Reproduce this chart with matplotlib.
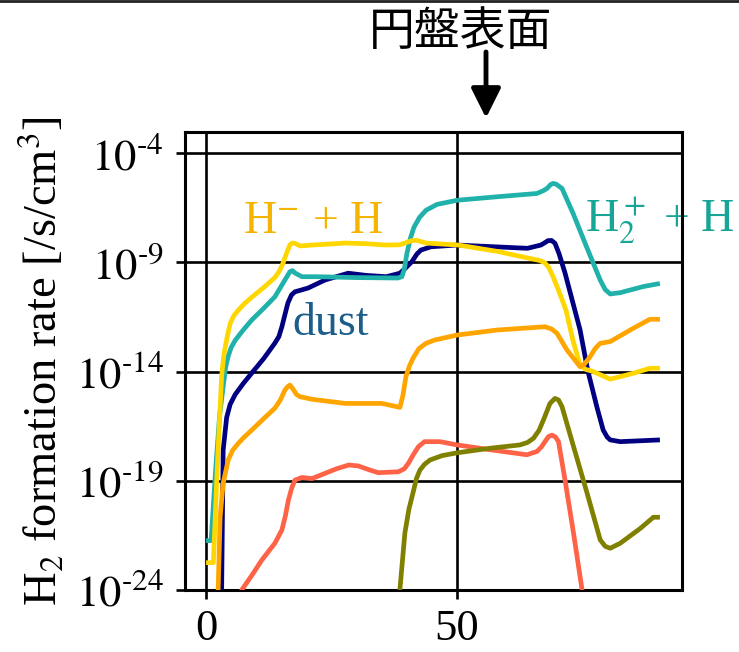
import numpy as np
import matplotlib
matplotlib.use("Agg")
import matplotlib.pyplot as plt
from matplotlib.lines import Line2D
from matplotlib.ticker import NullLocator, FixedLocator, FixedFormatter

plt.rcParams['font.family'] = ['Liberation Serif', 'DejaVu Serif']
plt.rcParams['mathtext.fontset'] = 'stix'

# ---- data (x position, log10 of rate) ----
x_hminus = [0, 1.45, 2.3, 3.1, 3.5, 3.8, 4.3, 4.8, 5.5, 6.4, 7.6, 9.1, 11.5, 13.7, 14.6, 15.3, 16.0,
            16.7, 17.2, 17.7, 18.7, 22, 27.7, 32, 35.7, 38.5, 39.6, 40.8, 41.8, 42.8, 43.8, 50.2,
            58, 64, 66.5, 67.5, 68.3, 69.1, 70.4, 71.7, 73.1, 74.5, 75.6, 77.1, 80.5, 85.1, 88.4, 90.4]
log_hminus = [-22.75, -22.75, -18.0, -14.2, -13.3, -12.9, -12.3, -11.8, -11.45, -11.2, -10.9, -10.6,
              -10.15, -9.7, -9.4, -9.05, -8.6, -8.2, -8.12, -8.13, -8.25, -8.2, -8.12, -8.15, -8.21,
              -8.2, -8.12, -8.02, -7.99, -8.05, -8.12, -8.21, -8.5, -8.8, -8.92, -9.03, -9.25, -9.65,
              -10.4, -11.2, -12.6, -13.7, -13.9, -14.0, -14.35, -14.08, -13.85, -13.85]

x_h2plus = [0, 1.0, 1.9, 2.7, 3.4, 3.9, 4.4, 5.0, 5.8, 7.4, 9.1, 11.5, 13.7, 15.7, 16.7, 17.2, 17.7,
            19.1, 22.3, 30, 38.2, 39.0, 39.5, 40.0, 40.7, 41.4, 42.5, 43.8, 46, 50.0, 58, 65.9,
            67.2, 67.9, 68.6, 69.1, 69.7, 70.9, 73.1, 75.8, 78.5, 79.5, 80.5, 82.5, 87.1, 90.4]
log_h2plus = [-21.74, -21.74, -18.5, -16.0, -14.7, -13.8, -13.3, -12.9, -12.57, -12.1, -11.64, -11.1,
              -10.58, -9.81, -9.43, -9.38, -9.49, -9.66, -9.66, -9.7, -9.72, -9.66, -9.3, -8.6, -7.9,
              -7.4, -6.95, -6.62, -6.35, -6.16, -6.0, -5.85, -5.72, -5.62, -5.45, -5.39, -5.42,
              -5.62, -6.76, -8.3, -9.81, -10.25, -10.45, -10.39, -10.11, -9.97]

x_dust = [2.9, 3.1, 3.4, 4.1, 4.8, 5.8, 7.4, 9.1, 11.5, 13.7, 14.5, 15.1, 15.7, 16.3, 17.0, 17.7,
          18.8, 20.3, 23.7, 28.3, 31.9, 35.9, 38.6, 39.8, 41.0, 42.0, 42.8, 44.8, 50, 64, 66.7,
          67.5, 68.1, 68.8, 69.5, 70.3, 71.5, 74.5, 76.0, 77.9, 79.1, 79.9, 80.5, 82.5, 90.4]
log_dust = [-27, -24, -17.6, -16.1, -15.5, -15.05, -14.55, -14.07, -13.4, -12.7, -12.4, -11.95,
            -11.4, -10.86, -10.5, -10.35, -10.28, -10.18, -9.81, -9.5, -9.6, -9.66, -9.5, -9.25,
            -8.97, -8.62, -8.44, -8.29, -8.21, -8.36, -8.21, -8.1, -8.01, -8.0, -8.13, -8.6, -9.49,
            -12.1, -13.93, -15.67, -16.68, -17.0, -17.13, -17.21, -17.13]

x_orange = [2.2, 2.4, 2.8, 3.4, 4.4, 5.3, 6.4, 7.6, 9.1, 11.5, 13.7, 14.8, 15.7, 16.2, 16.7, 17.3,
            18.0, 18.7, 21.1, 27.7, 35.0, 38.6, 39.2, 39.8, 40.5, 41.2, 42.4, 43.8, 45.5, 50, 58,
            67.5, 68.8, 69.9, 71.9, 74.5, 75.4, 76.5, 77.5, 78.5, 80.5, 85.1, 88.4, 90.4]
log_orange = [-27, -24, -20.65, -19.12, -18.05, -17.6, -17.29, -17.0, -16.68, -16.15, -15.68, -15.3,
              -14.85, -14.7, -14.62, -14.8, -15.05, -15.15, -15.27, -15.46, -15.46, -15.64, -15.1,
              -14.24, -13.75, -13.4, -12.95, -12.71, -12.56, -12.33, -12.1, -11.95, -12.05, -12.25,
              -13.02, -13.78, -13.65, -13.32, -12.95, -12.71, -12.63, -12.02, -11.61, -11.61]

x_tomato = [6.5, 7.1, 9.2, 11.1, 13.7, 15.1, 15.8, 16.4, 17.1, 17.7, 19.1, 21.1, 23.7, 26, 28.4, 30.3,
            32.5, 34.3, 38.3, 39.5, 40.3, 41.3, 42.3, 43.5, 46.6, 50, 56.6, 63.9, 65.9, 66.8, 67.5,
            68.2, 68.9, 69.6, 70.2, 71.5, 73.2, 74.9, 75.4]
log_tomato = [-24.9, -24, -23.3, -22.63, -21.86, -21.25, -20.6, -19.88, -19.3, -18.97, -18.85, -18.9,
              -18.66, -18.45, -18.28, -18.32, -18.5, -18.63, -18.59, -18.45, -18.2, -17.8, -17.44,
              -17.21, -17.21, -17.36, -17.58, -17.81, -17.66, -17.45, -17.21, -16.98, -16.91, -17.0,
              -17.21, -18.97, -21.41, -24, -24.8]

x_olive = [38.2, 38.6, 39.6, 40.4, 41.2, 41.9, 42.6, 43.5, 44.6, 47, 50, 56.6, 62.5, 64.0, 65.2,
           66.3, 67.2, 68.5, 69.5, 70.2, 70.9, 73.2, 75.9, 78.5, 79.5, 80.5, 82.5, 86.5, 89.1, 90.4]
log_olive = [-27, -24, -21.39, -20.3, -19.57, -18.9, -18.51, -18.25, -18.05, -17.85, -17.72, -17.51,
             -17.36, -17.25, -17.06, -16.7, -16.22, -15.46, -15.23, -15.3, -15.61, -17.44, -19.57,
             -21.70, -22.0, -22.09, -21.86, -21.18, -20.67, -20.67]

xticks = [0, 50]
ytick_exps = [-4, -9, -14, -19, -24]

series = [
    (x_dust, log_dust, '#000080'),
    (x_h2plus, log_h2plus, '#20B2AA'),
    (x_hminus, log_hminus, '#FFD700'),
    (x_orange, log_orange, '#FFA500'),
    (x_tomato, log_tomato, '#FF6347'),
    (x_olive, log_olive, '#808000'),
]

fig = plt.figure(figsize=(7.39, 6.52), dpi=100)
ax = fig.add_axes([185/739, 1 - 590/652, (682-185)/739, (590-132.3)/652])

for xs, ls, c in series:
    ax.plot(xs, 10.0 ** np.array(ls), color=c, lw=3.4, solid_capstyle='butt',
            solid_joinstyle='round', zorder=3)

ax.set_yscale('log')
ax.set_xlim(-4.2, 94.8)
ax.set_ylim(1e-24, 10 ** -3.05)

ax.yaxis.set_major_locator(FixedLocator([10.0 ** e for e in ytick_exps]))
ax.yaxis.set_major_formatter(FixedFormatter(['$10^{\u2010' + str(abs(e)) + '}$' for e in ytick_exps]))
ax.yaxis.set_minor_locator(NullLocator())
ax.set_xticks(xticks)
ax.set_xticklabels([str(v) for v in xticks])
ax.xaxis.set_minor_locator(NullLocator())

ax.grid(True, which='major', color='k', lw=1.9)
ax.set_axisbelow(True)
ax.tick_params(axis='both', which='major', direction='out', length=6.5, width=1.9,
               labelsize=32, colors='k')
ax.tick_params(axis='y', pad=9)
ax.tick_params(axis='x', pad=7)
for s in ax.spines.values():
    s.set_linewidth(2.2)
    s.set_color('k')

ax.set_ylabel('H$_2$ formation rate [/s/cm$^3$]', fontsize=33.5, labelpad=6)

ax.text(7.4, 10 ** -7.66, 'H$^{-}$ + H', color='#F4B400', fontsize=33,
        va='baseline', ha='left', zorder=4)
ax.text(17.1, 10 ** -12.33, 'dust', color='#1B5E8C', fontsize=33,
        va='baseline', ha='left', zorder=4)
ax.text(75.5, 10 ** -7.6, 'H$_2^+$ + H', color='#16A596', fontsize=33,
        va='baseline', ha='left', zorder=2, clip_on=False)

fig.text(461/739, 1 - 31.5/652, '円盤表面', fontsize=33, ha='center', va='center',
         family=['Noto Sans CJK JP', 'DejaVu Sans'])
ax.annotate('', xy=(486, 652 - 118), xytext=(486, 652 - 52), xycoords='figure pixels',
            textcoords='figure pixels', annotation_clip=False,
            arrowprops=dict(arrowstyle='-|>,head_width=0.9,head_length=1.8', mutation_scale=10,
                            lw=3.5, color='k', shrinkA=0, shrinkB=0))

fig.add_artist(Line2D([0, 1], [1 - 1.3/652, 1 - 1.3/652], transform=fig.transFigure,
                      color='#222222', lw=2))

fig.savefig('out.png', dpi=100)
